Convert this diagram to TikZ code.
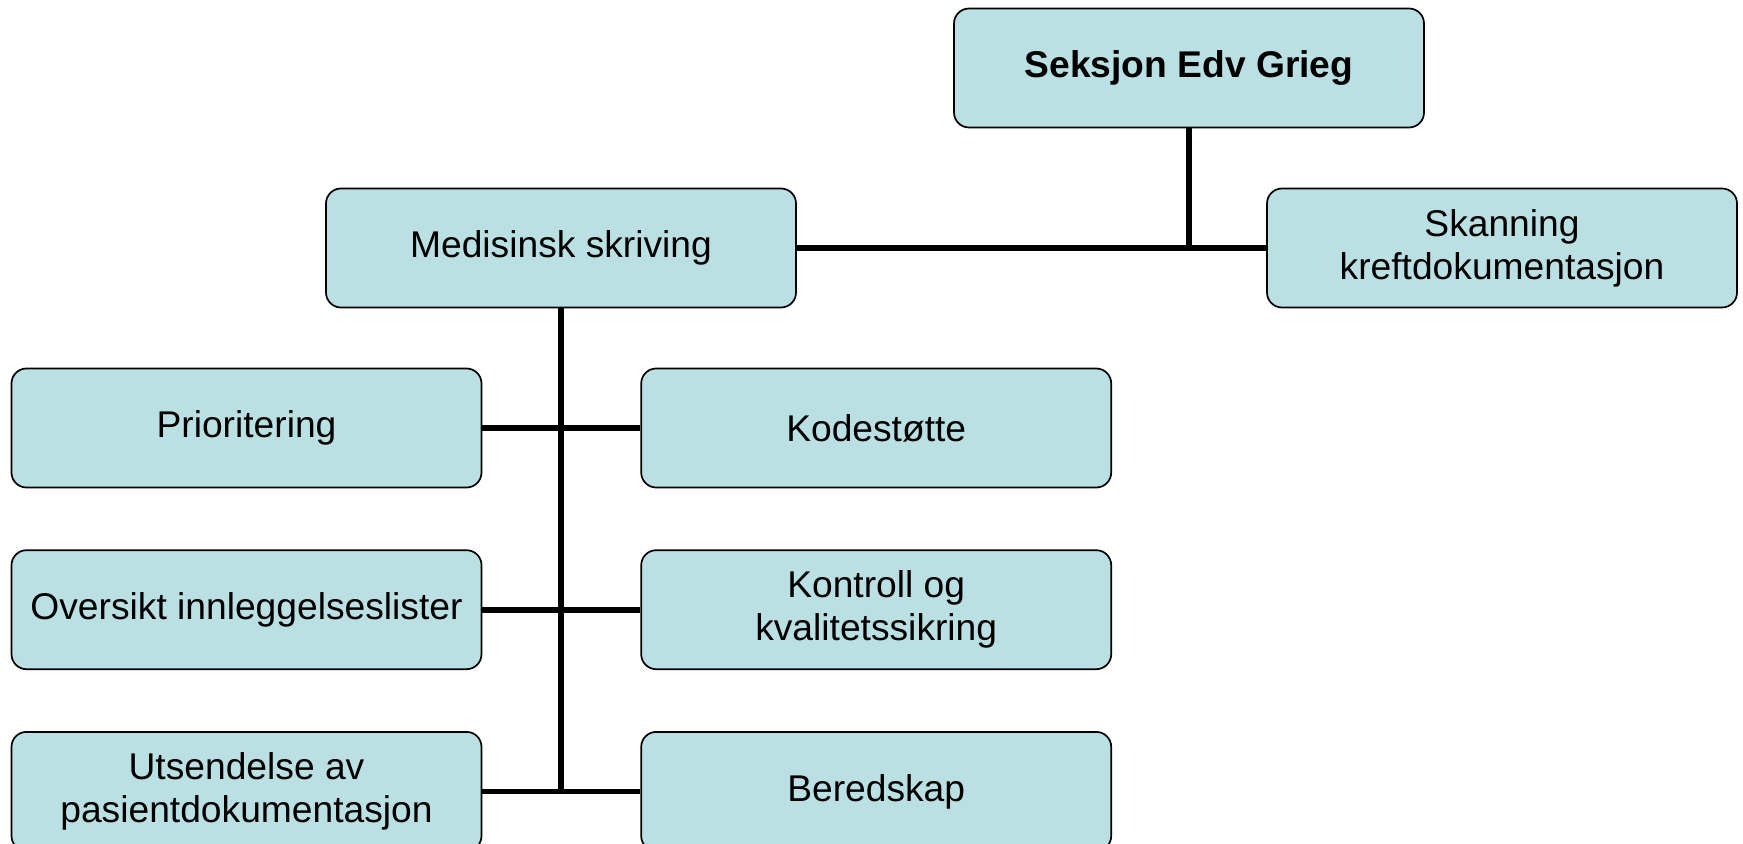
\documentclass[tikz,border=0pt]{standalone}
\usepackage{fontspec}
\setmainfont{Liberation Sans}
\usepackage{tikz}
\usetikzlibrary{shapes,arrows}
\usetikzlibrary{positioning}

\definecolor{unitfill}{RGB}{187,224,227}

\begin{document}
\begin{tikzpicture}
        [x=0.5pt, y=-0.5pt, node distance=30.5pt and 79pt,
         unit/.style={draw, line width=0.85pt, rounded corners=7.5pt, fill=unitfill,
                      minimum width=235pt, minimum height=59.5pt, align=center,
                      font=\fontsize{18.6}{21.5}\selectfont},
         link/.style={line width=2.8pt}]
        \useasboundingbox (0,0) rectangle (1743,844);
        \node [unit, font=\fontsize{18.6}{21.5}\selectfont\bfseries] (seksjon) at (1189,68) {Seksjon Edv Grieg};
        \node [unit] (medisinsk) at (561,248) {Medisinsk skriving};
        \node [unit] (skanning) at (1502,248) {Skanning\\kreftdokumentasjon};
        \node [unit] (prioritering) at (246.5,428) {Prioritering};
        \node [unit, right=of prioritering] (kodestotte) {Kodestøtte};
        \node [unit, below=of prioritering] (oversikt) {Oversikt innleggelseslister};
        \node [unit, below=of kodestotte] (kontroll) {Kontroll og\\kvalitetssikring};
        \node [unit, below=of oversikt] (utsendelse) {Utsendelse av\\pasientdokumentasjon};
        \node [unit, below=of kontroll] (beredskap) {Beredskap};

        \draw [link] (medisinsk) -- (skanning);
        \draw [link] (seksjon) -- (seksjon |- skanning);
        \draw [link] (medisinsk) -- (medisinsk |- beredskap);
        \draw [link] (prioritering) -- (kodestotte);
        \draw [link] (oversikt) -- (kontroll);
        \draw [link] (utsendelse) -- (beredskap);
    \end{tikzpicture}
\end{document}
